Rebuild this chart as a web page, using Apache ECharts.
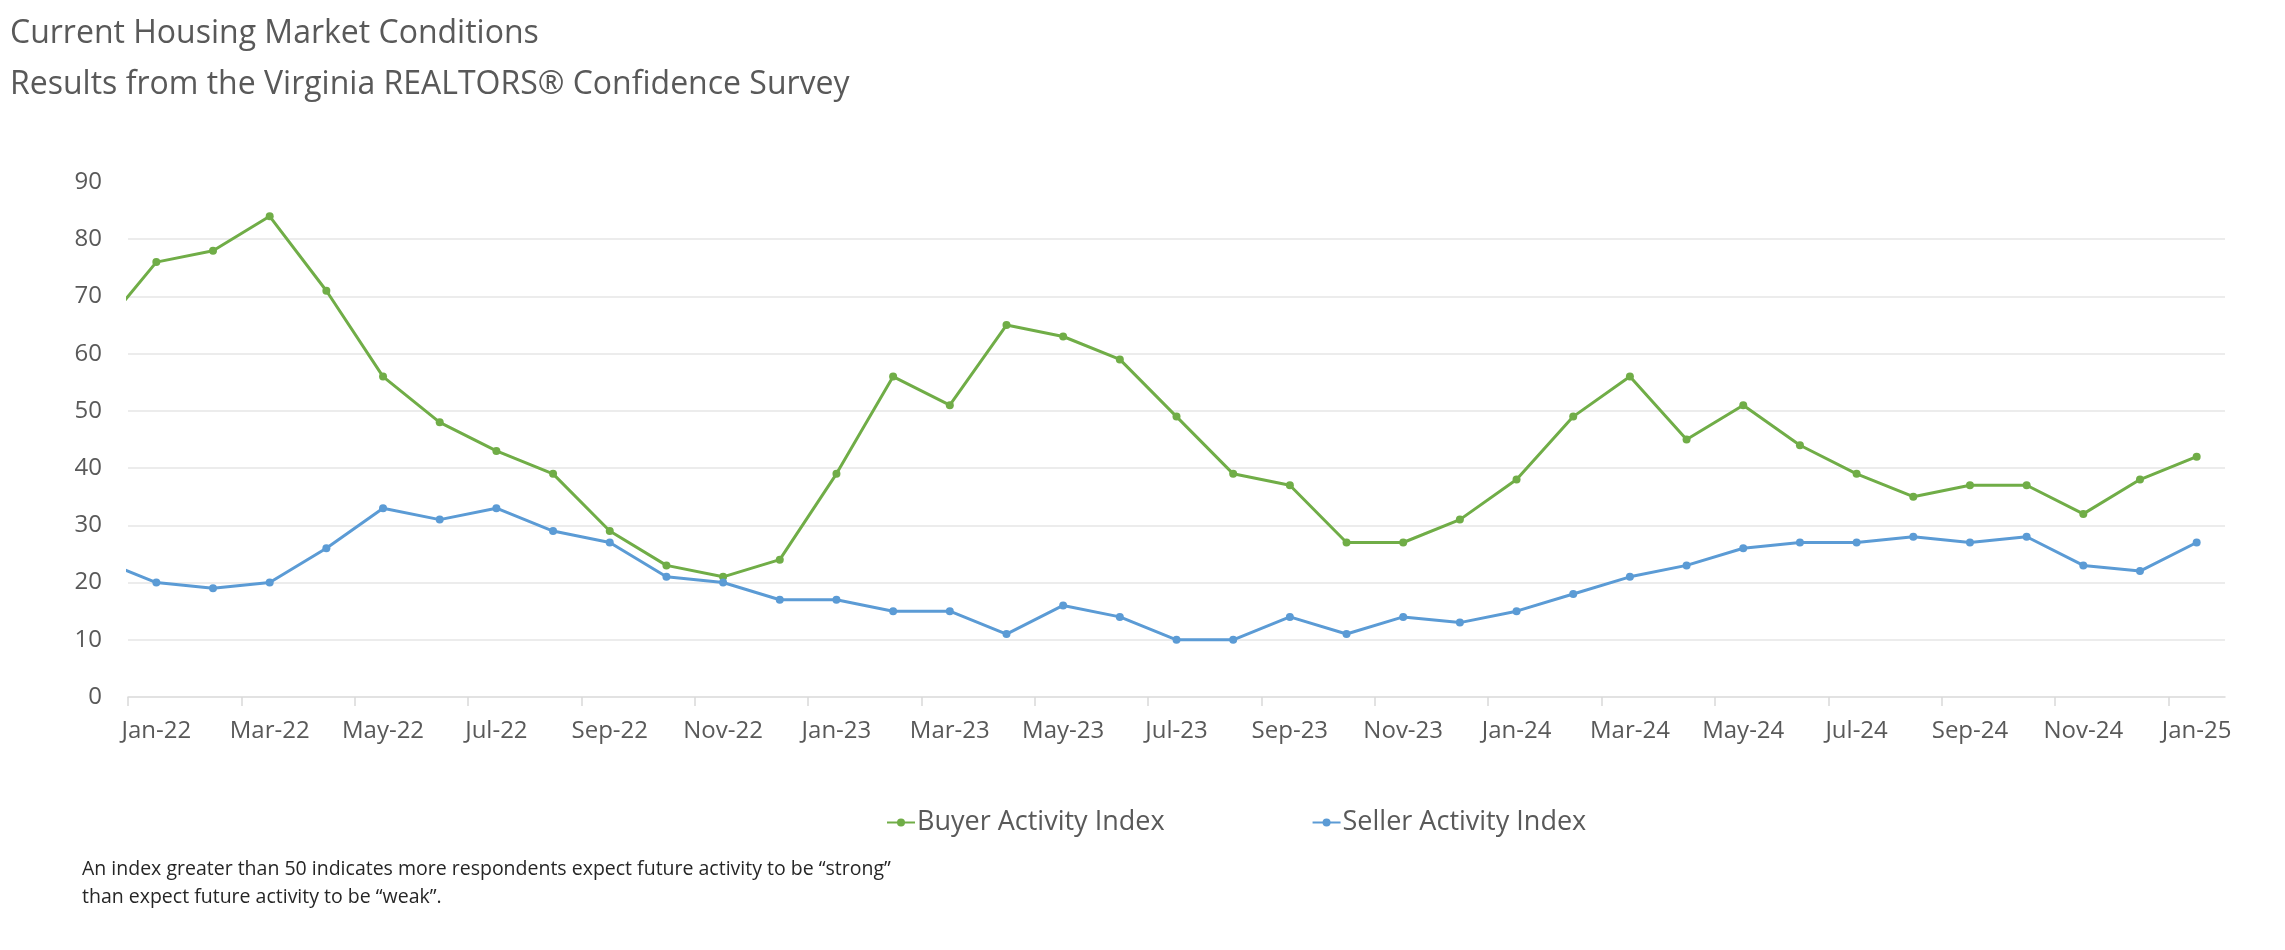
<!DOCTYPE html>
<html>
<head>
<meta charset="utf-8">
<script src="https://cdn.jsdelivr.net/npm/echarts@6/dist/echarts.min.js"></script>
<style>
  html, body { margin: 0; padding: 0; background: #fff; }
  #chart { width: 2285px; height: 950px; }
</style>
</head>
<body>
<div id="chart"></div>
<script>
// Month categories (Dec-21 is only partly visible at the left edge of the plot)
const months = ['Dec-21',
  'Jan-22','Feb-22','Mar-22','Apr-22','May-22','Jun-22','Jul-22','Aug-22','Sep-22','Oct-22','Nov-22','Dec-22',
  'Jan-23','Feb-23','Mar-23','Apr-23','May-23','Jun-23','Jul-23','Aug-23','Sep-23','Oct-23','Nov-23','Dec-23',
  'Jan-24','Feb-24','Mar-24','Apr-24','May-24','Jun-24','Jul-24','Aug-24','Sep-24','Oct-24','Nov-24','Dec-24',
  'Jan-25'];

const buyerIndex = [64,
  76, 78, 84, 71, 56, 48, 43, 39, 29, 23, 21, 24,
  39, 56, 51, 65, 63, 59, 49, 39, 37, 27, 27, 31,
  38, 49, 56, 45, 51, 44, 39, 35, 37, 37, 32, 38,
  42];

const sellerIndex = [24,
  20, 19, 20, 26, 33, 31, 33, 29, 27, 21, 20, 17,
  17, 15, 15, 11, 16, 14, 10, 10, 14, 11, 14, 13,
  15, 18, 21, 23, 26, 27, 27, 28, 27, 28, 23, 22,
  27];

const yTicks = [0, 10, 20, 30, 40, 50, 60, 70, 80, 90];

const titleText = 'Current Housing Market Conditions\nResults from the Virginia REALTORS\u00AE Confidence Survey';
const noteText = 'An index greater than 50 indicates more respondents expect future activity to be \u201Cstrong\u201D\nthan expect future activity to be \u201Cweak\u201D.';

const seriesNames = ['Buyer Activity Index', 'Seller Activity Index'];
const colors = ['#70AD47', '#5B9BD5'];

// label positions: every second month starting with Jan-22; ticks on month boundaries
const labelValues = [];
const tickValues = [];
for (let i = 1; i < months.length; i += 2) {
  labelValues.push(i);
  tickValues.push(i - 0.5);
}

const font = '"Open Sans", "DejaVu Sans", sans-serif';
const chart = echarts.init(document.getElementById('chart'), null, { renderer: 'canvas' });

const option = {
  animation: false,
  backgroundColor: '#ffffff',
  title: [
    {
      text: titleText,
      left: 10, top: 8, padding: 0,
      textStyle: { fontFamily: font, fontSize: 32, fontWeight: 'normal', color: '#595959', lineHeight: 51 }
    },
    {
      text: noteText,
      left: 82, top: 855, padding: 0,
      textStyle: { fontFamily: font, fontSize: 19.5, fontWeight: 'normal', color: '#262626', lineHeight: 28 }
    }
  ],
  legend: {
    data: seriesNames,
    left: 886, top: 809, padding: 0,
    itemWidth: 28, itemHeight: 10, itemGap: 147,
    textStyle: { fontFamily: font, fontSize: 27, color: '#595959', padding: [0, 0, 0, -3] }
  },
  grid: { left: 128, right: 60, top: 182, bottom: 253, containLabel: false },
  xAxis: {
    type: 'value',
    min: 0.5,
    max: months.length - 0.5,
    splitLine: { show: false },
    axisLine: { show: true, lineStyle: { color: '#d9d9d9', width: 1.5 } },
    axisTick: { show: true, customValues: tickValues, length: 9, lineStyle: { color: '#d9d9d9', width: 1.5 } },
    axisLabel: {
      customValues: labelValues,
      formatter: v => months[Math.round(v)],
      fontFamily: font, fontSize: 24, color: '#595959', margin: 22
    }
  },
  yAxis: {
    type: 'value',
    min: yTicks[0], max: yTicks[yTicks.length - 1], interval: 10,
    axisLine: { show: false },
    axisTick: { show: false },
    axisLabel: { fontFamily: font, fontSize: 24, color: '#595959', margin: 26 },
    splitLine: { show: true, showMaxLine: false, showMinLine: false, lineStyle: { color: '#e6e6e6', width: 1.5 } }
  },
  series: [
    {
      name: seriesNames[0], type: 'line', clip: true,
      data: buyerIndex.map((v, i) => [i, v]),
      symbol: 'circle', symbolSize: 8,
      lineStyle: { color: colors[0], width: 3 },
      itemStyle: { color: colors[0] }
    },
    {
      name: seriesNames[1], type: 'line', clip: true,
      data: sellerIndex.map((v, i) => [i, v]),
      symbol: 'circle', symbolSize: 8,
      lineStyle: { color: colors[1], width: 3 },
      itemStyle: { color: colors[1] }
    }
  ]
};
chart.setOption(option);
</script>
</body>
</html>
